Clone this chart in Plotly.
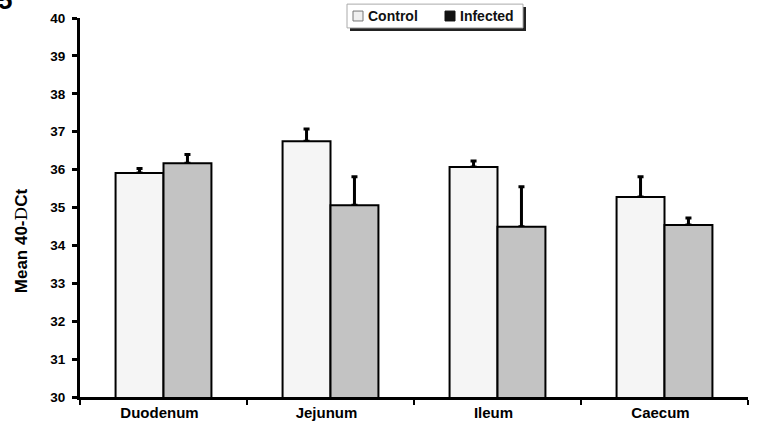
import plotly.graph_objects as go

# ---- data ----
categories = ["Duodenum", "Jejunum", "Ileum", "Caecum"]
control = [35.91, 36.75, 36.07, 35.28]
control_err = [0.12, 0.32, 0.16, 0.53]
infected = [36.17, 35.06, 34.49, 34.54]
infected_err = [0.23, 0.75, 1.06, 0.18]
y_ticks = [30, 31, 32, 33, 34, 35, 36, 37, 38, 39, 40]
series_names = ["Control", "Infected"]

# ---- layout geometry ----
W, H = 757, 430
ML, MR, MT, MB = 80, 9, 18, 30
PW, PH = W - ML - MR, H - MT - MB


def px2x(px):
    return (px - ML) / PW


def py2y(py):
    return (H - MB - py) / PH


FONT = "Liberation Sans, Arial, sans-serif"
BW = 0.287

fig = go.Figure()
series = [
    (series_names[0], control, control_err, -BW, "#f5f5f5"),
    (series_names[1], infected, infected_err, 0, "#c3c3c3"),
]
# error bars first (drawn beneath the bars so only the upper whisker shows)
for name, vals, errs, off, col in series:
    fig.add_trace(go.Bar(
        x=categories, y=vals, name=name + " error", offset=off, width=BW,
        marker=dict(color="rgba(0,0,0,0)", line=dict(width=0)),
        error_y=dict(type="data", array=errs, arrayminus=[0] * len(errs),
                     symmetric=False, color="black", thickness=3, width=3),
        showlegend=False, hoverinfo="skip",
    ))
for name, vals, errs, off, col in series:
    fig.add_trace(go.Bar(
        x=categories, y=vals, name=name, offset=off, width=BW,
        marker=dict(color=col, line=dict(color="black", width=2)),
        showlegend=False,
    ))

shapes = []
annotations = []

# manual legend box (with shadow)
lx0, lx1, ly0, ly1 = 347, 523, 4, 28
shapes.append(dict(type="rect", xref="paper", yref="paper",
                   x0=px2x(lx0 + 3), x1=px2x(lx1 + 3), y0=py2y(ly0 + 3), y1=py2y(ly1 + 3),
                   fillcolor="#222222", line=dict(width=0)))
shapes.append(dict(type="rect", xref="paper", yref="paper",
                   x0=px2x(lx0), x1=px2x(lx1), y0=py2y(ly0), y1=py2y(ly1),
                   fillcolor="white", line=dict(color="#aaaaaa", width=1)))
swatches = [(353, "#f0f0f0", "#777777", 366, series_names[0]),
            (445, "#111111", "#111111", 458, series_names[1])]
for sx, fill, edge, tx, label in swatches:
    shapes.append(dict(type="rect", xref="paper", yref="paper",
                       x0=px2x(sx), x1=px2x(sx + 10), y0=py2y(11), y1=py2y(21),
                       fillcolor=fill, line=dict(color=edge, width=1)))
    annotations.append(dict(text=label, xref="paper", yref="paper",
                            x=px2x(tx), y=py2y(16), xanchor="left", yanchor="middle",
                            showarrow=False,
                            font=dict(family=FONT, size=14, color="#111111", weight="bold")))

# y axis title
annotations.append(dict(
    text="Mean 40-<span style='font-family:DejaVu Serif;font-weight:normal'>D</span>Ct",
    xref="paper", yref="paper", x=px2x(21), y=py2y(243), xanchor="center", yanchor="middle",
    textangle=-90, showarrow=False,
    font=dict(family=FONT, size=17, color="black", weight="bold")))

# panel label (partly cut off, as in the original)
annotations.append(dict(text="5", xref="paper", yref="paper",
                        x=px2x(14), y=py2y(17), xanchor="right", yanchor="bottom",
                        showarrow=False,
                        font=dict(family=FONT, size=26, color="black", weight="bold")))

fig.update_layout(
    width=W, height=H,
    margin=dict(l=ML, r=MR, t=MT, b=MB),
    paper_bgcolor="white", plot_bgcolor="white",
    barmode="overlay",
    showlegend=False,
    font=dict(family=FONT, color="black"),
    shapes=shapes, annotations=annotations,
    xaxis=dict(range=[-0.5, 3.5], showline=True, linecolor="black", linewidth=3,
               ticks="outside", tickson="boundaries", ticklen=5, tickwidth=2, tickcolor="black",
               showgrid=False, zeroline=False, ticklabelshift=-4,
               tickfont=dict(family=FONT, size=15, color="black", weight="bold")),
    yaxis=dict(range=[30, 40], tickvals=y_ticks, showline=True, linecolor="black", linewidth=3,
               ticks="outside", ticklen=5, tickwidth=3, tickcolor="black",
               showgrid=False, zeroline=False, ticklabelstandoff=4,
               tickfont=dict(family=FONT, size=13.5, color="black", weight="bold")),
)

fig.write_html("out.html", config={"displayModeBar": False},
               post_script="document.body.style.margin='0';")
